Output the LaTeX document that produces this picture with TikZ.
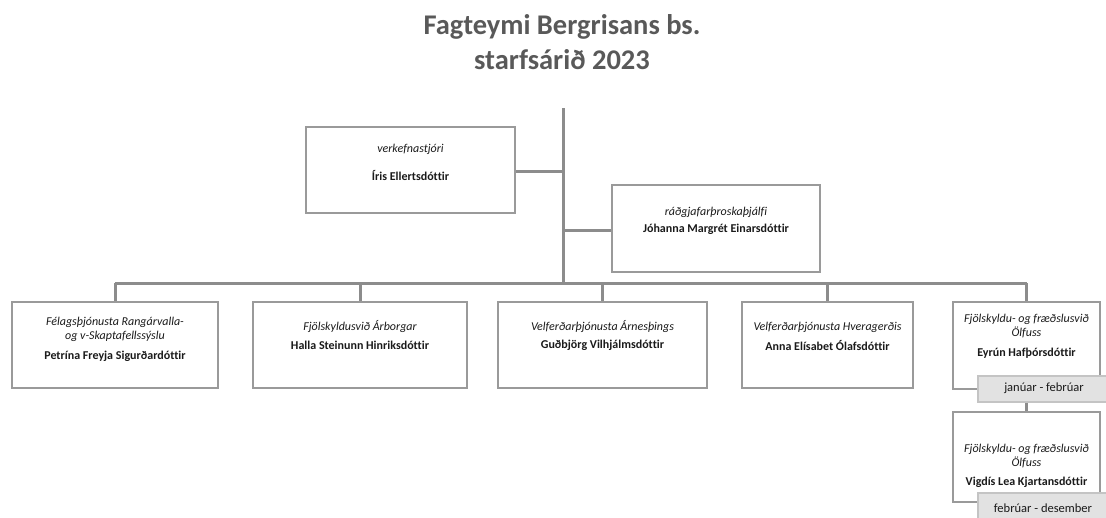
\documentclass[tikz,border=0pt]{standalone}
\usepackage{fontspec}
\setmainfont[Ligatures=NoCommon]{Carlito}
\definecolor{titlegray}{HTML}{595959}
\definecolor{linegray}{HTML}{8C8C8C}
\definecolor{boxgray}{HTML}{9A9A9A}
\definecolor{txt}{HTML}{1A1A1A}
\definecolor{labfill}{HTML}{E2E2E2}
\definecolor{labdraw}{HTML}{C4C4C4}
\tikzset{
  box/.style={draw=boxgray, line width=2.5pt, fill=white, inner sep=0pt},
  conn/.style={draw=linegray, line width=3pt},
  role/.style={font=\fontsize{12}{14}\selectfont\itshape, text=txt, align=center, inner sep=0pt},
  pname/.style={font=\fontsize{12}{14}\selectfont\bfseries, text=txt, align=center, inner sep=0pt},
  period/.style={draw=labdraw, line width=1.5pt, fill=labfill, inner sep=0pt, minimum width=134pt, minimum height=26pt},
  ptext/.style={font=\fontsize{12.5}{14}\selectfont, text=txt, inner sep=0pt},
  ttl/.style={font=\fontsize{28.5}{35}\selectfont\bfseries, text=titlegray, align=center, inner sep=0pt}
}
\begin{document}
\begin{tikzpicture}[x=1pt,y=-1pt]
\useasboundingbox (0,0) rectangle (1106,517);
\clip (0,0) rectangle (1106,517);
\node[ttl] (title) at (562,42) {Fagteymi Bergrisans bs.\\starfsárið 2023};
% spine and bus
\coordinate (top) at (563,108);
\coordinate (hub) at (563,283);
\coordinate (busL) at (115,283);
\coordinate (busR) at (1026.5,283);
\coordinate (j1) at (563,171);
\coordinate (j2) at (563,230);
% top boxes
\node[box, minimum width=209pt, minimum height=86pt] (t1) at (410.5,170) {};
\node[box, minimum width=208pt, minimum height=87pt] (t2) at (716,228.5) {};
% bottom row
\node[box, minimum width=206pt, minimum height=86pt] (b1) at (115,345) {};
\node[box, minimum width=214pt, minimum height=86pt] (b2) at (360,345) {};
\node[box, minimum width=209pt, minimum height=86pt] (b3) at (602.5,345) {};
\node[box, minimum width=171pt, minimum height=86pt] (b4) at (827.5,345) {};
\node[box, minimum width=147pt, minimum height=87pt] (b5) at (1026.5,345.5) {};
\node[box, minimum width=147pt, minimum height=90pt] (b6) at (1026.5,457) {};
% connectors
\draw[conn] (top) -- (hub);
\draw[conn] (busL) -- (busR);
\draw[conn] (j1) -- (j1 -| t1.east);
\draw[conn] (j2) -- (j2 -| t2.west);
\draw[conn] (busL) -- (b1.north);
\draw[conn] (b2.north |- hub) -- (b2.north);
\draw[conn] (b3.north |- hub) -- (b3.north);
\draw[conn] (b4.north |- hub) -- (b4.north);
\draw[conn] (busR) -- (b5.north);
% redraw boxes above connector ends
\node[box, minimum width=209pt, minimum height=86pt] at (t1) {};
\node[box, minimum width=208pt, minimum height=87pt] at (t2) {};
% period labels
\node[period] (p1) at (1045,389) {};
\node[period] (p2) at (1045,506) {};
\draw[conn] (p1.south -| b6.north) -- (b6.north);
% texts
\node[role] (t1r) at (410.5,149) {verkefnastjóri};
\node[pname] (t1n) at (410.5,176) {Íris Ellertsdóttir};
\node[role] (t2r) at (716,212) {ráðgjafarþroskaþjálfi};
\node[pname] (t2n) at (716,229) {Jóhanna Margrét Einarsdóttir};
\node[role] (b1r) at (115,329) {Félagsþjónusta Rangárvalla-\\og v-Skaptafellssýslu};
\node[pname] (b1n) at (115,356) {Petrína Freyja Sigurðardóttir};
\node[role] (b2r) at (360,327) {Fjölskyldusvið Árborgar};
\node[pname] (b2n) at (360,345) {Halla Steinunn Hinriksdóttir};
\node[role] (b3r) at (602.5,327) {Velferðarþjónusta Árnesþings};
\node[pname] (b3n) at (602.5,345) {Guðbjörg Vilhjálmsdóttir};
\node[role] (b4r) at (827.5,327) {Velferðarþjónusta Hveragerðis};
\node[pname] (b4n) at (827.5,345) {Anna Elísabet Ólafsdóttir};
\node[role] (b5r) at (1026.5,326) {Fjölskyldu- og fræðslusvið\\Ölfuss};
\node[pname] (b5n) at (1026.5,353) {Eyrún Hafþórsdóttir};
\node[role] (b6r) at (1026.5,456) {Fjölskyldu- og fræðslusvið\\Ölfuss};
\node[pname] (b6n) at (1026.5,482) {Vigdís Lea Kjartansdóttir};
\node[ptext] (p1t) at (1044,388) {janúar - febrúar};
\node[ptext] (p2t) at (1043,508) {febrúar - desember};
\end{tikzpicture}
\end{document}
